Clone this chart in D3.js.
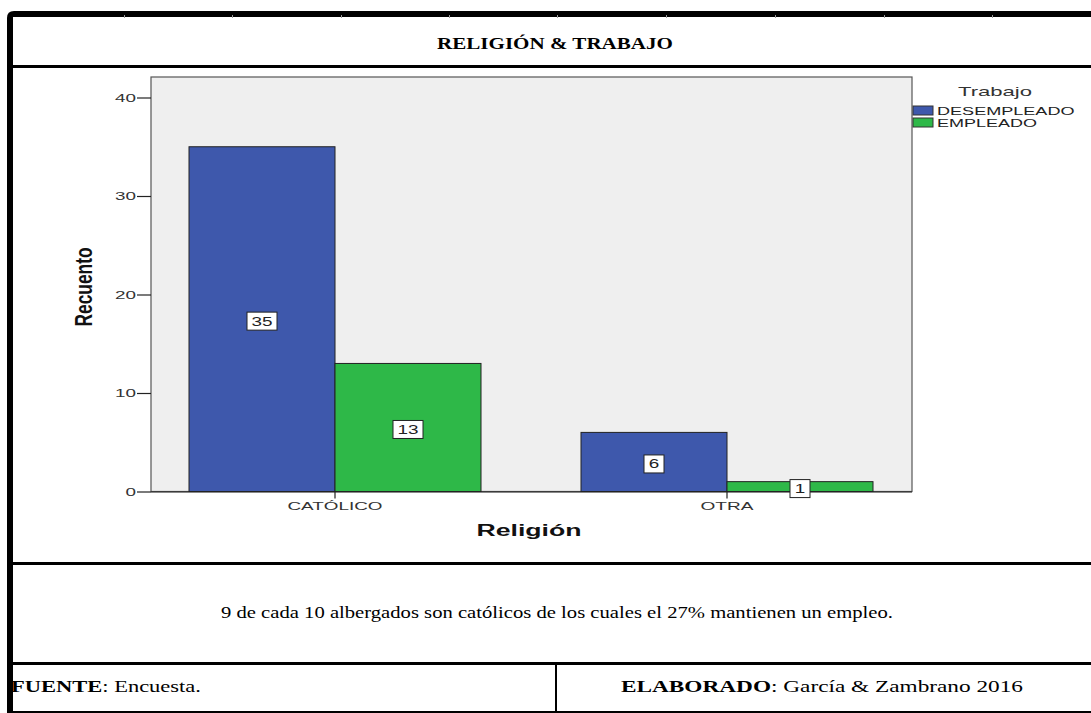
<!DOCTYPE html>
<html>
<head>
<meta charset="utf-8">
<script src="https://cdn.jsdelivr.net/npm/d3@7"></script>
<style>
  html, body { margin: 0; padding: 0; background: #fff; }
  svg { display: block; }
</style>
</head>
<body>
<svg id="chart" width="1091" height="713"></svg>
<script>
// ---- data ----
const categories = ["CATÓLICO", "OTRA"];
const series = ["DESEMPLEADO", "EMPLEADO"];
const desempleado = [35, 6];
const empleado = [13, 1];
const yTicks = [0, 10, 20, 30, 40];
const seriesColors = ["#3E58AC", "#2EB848"];
const titleText = "RELIGIÓN & TRABAJO";
const yTitle = "Recuento";
const xTitle = "Religión";
const legendTitle = "Trabajo";
const commentText = "9 de cada 10 albergados son católicos de los cuales el 27% mantienen un empleo.";

const values = [desempleado, empleado];
const rows = [];
categories.forEach((c, i) => series.forEach((s, j) => rows.push({cat: c, ser: s, si: j, v: values[j][i]})));

const svg = d3.select("#chart");
const serif = "'Liberation Serif', 'Times New Roman', serif";
const sans = "'Liberation Sans', Arial, sans-serif";

// ---- page frame (document table) ----
const frame = svg.append("g");
frame.append("path").attr("d", "M7,713 L7,18 Q7,11 14,11 L1091,11 L1091,17 L13,17 L13,713 Z").attr("fill", "#000");
[124, 232, 341, 449, 557, 666, 775, 884, 992].forEach(x =>
  frame.append("rect").attr("x", x).attr("y", 15).attr("width", 1).attr("height", 3).attr("fill", "#999"));
frame.append("rect").attr("x", 13).attr("y", 65).attr("width", 1078).attr("height", 3).attr("fill", "#000");
frame.append("rect").attr("x", 13).attr("y", 562).attr("width", 1078).attr("height", 3).attr("fill", "#000");
frame.append("rect").attr("x", 13).attr("y", 662).attr("width", 1078).attr("height", 3).attr("fill", "#000");
frame.append("rect").attr("x", 7).attr("y", 711).attr("width", 1084).attr("height", 2).attr("fill", "#000");
frame.append("rect").attr("x", 555).attr("y", 665).attr("width", 2).attr("height", 47).attr("fill", "#000");

svg.append("text").attr("x", 437).attr("y", 49)
  .attr("font-family", serif).attr("font-weight", "bold").attr("font-size", 17.5)
  .attr("textLength", 236).attr("lengthAdjust", "spacingAndGlyphs").attr("fill", "#000")
  .text(titleText);

svg.append("text").attr("x", 221).attr("y", 618)
  .attr("font-family", serif).attr("font-size", 17)
  .attr("textLength", 672).attr("lengthAdjust", "spacingAndGlyphs").attr("fill", "#000")
  .text(commentText);

const f1 = svg.append("text").attr("x", 11).attr("y", 692)
  .attr("font-family", serif).attr("font-size", 17)
  .attr("textLength", 190).attr("lengthAdjust", "spacingAndGlyphs").attr("fill", "#000");
f1.append("tspan").attr("font-weight", "bold").text("FUENTE");
f1.append("tspan").text(": Encuesta.");

const f2 = svg.append("text").attr("x", 621).attr("y", 692)
  .attr("font-family", serif).attr("font-size", 17)
  .attr("textLength", 402).attr("lengthAdjust", "spacingAndGlyphs").attr("fill", "#000");
f2.append("tspan").attr("font-weight", "bold").text("ELABORADO");
f2.append("tspan").text(": García & Zambrano 2016");

// ---- chart ----
const plot = {left: 151, right: 912, top: 77, bottom: 491.5};
const x = d3.scaleBand().domain(categories).range([139, 923]).padding(0);
const xs = d3.scaleBand().domain(series).range([-146, 146]).padding(0);
const y = d3.scaleLinear().domain([0, 40]).range([491.5, 97.5]);

svg.append("rect").attr("x", plot.left).attr("y", plot.top)
  .attr("width", plot.right - plot.left).attr("height", plot.bottom - plot.top)
  .attr("fill", "#efefef").attr("stroke", "#555").attr("stroke-width", 1.2);

// y axis
const yAxis = svg.append("g").attr("transform", `translate(${plot.left},0)`)
  .call(d3.axisLeft(y).tickValues(yTicks).tickSize(14).tickPadding(1));
yAxis.select(".domain").remove();
yAxis.selectAll(".tick line").attr("stroke", "#222").attr("stroke-width", 1.2);
yAxis.selectAll(".tick text")
  .attr("font-family", sans).attr("font-size", 10.5).attr("fill", "#333")
  .attr("dy", "0.36em")
  .each(function(d) {
    const t = String(d);
    d3.select(this).attr("textLength", t.length * 10.5).attr("lengthAdjust", "spacingAndGlyphs");
  });

// bars
const bars = svg.append("g");
bars.selectAll("rect").data(rows).join("rect")
  .attr("x", d => x(d.cat) + x.bandwidth() / 2 + xs(d.ser))
  .attr("y", d => y(d.v))
  .attr("width", xs.bandwidth())
  .attr("height", d => y(0) - y(d.v))
  .attr("fill", d => seriesColors[d.si])
  .attr("stroke", "#222").attr("stroke-width", 1);

// x axis
const xAxis = svg.append("g").attr("transform", `translate(0,${y(0)})`)
  .call(d3.axisBottom(x).tickSize(7).tickPadding(4));
xAxis.select(".domain").attr("stroke", "#222").attr("stroke-width", 1.2)
  .attr("d", `M${plot.left},0.5H${plot.right}`);
xAxis.selectAll(".tick line").attr("stroke", "#222").attr("stroke-width", 1.2);
xAxis.selectAll(".tick text")
  .attr("font-family", sans).attr("font-size", 11.5).attr("fill", "#333")
  .attr("y", 18.5).attr("dy", 0)
  .each(function(d) {
    d3.select(this).attr("textLength", d.length > 4 ? 95 : 53).attr("lengthAdjust", "spacingAndGlyphs");
  });

// value labels
const labels = svg.append("g");
const lg = labels.selectAll("g").data(rows).join("g")
  .attr("transform", d => `translate(${x(d.cat) + x.bandwidth() / 2 + xs(d.ser) + xs.bandwidth() / 2},${(y(d.v) + y(0)) / 2 + 2})`);
lg.append("rect")
  .attr("x", d => String(d.v).length > 1 ? -15 : -10)
  .attr("y", -9)
  .attr("width", d => String(d.v).length > 1 ? 30 : 20)
  .attr("height", 18)
  .attr("fill", "#fff").attr("stroke", "#222").attr("stroke-width", 1);
lg.append("text")
  .attr("text-anchor", "middle").attr("y", 4.5)
  .attr("font-family", sans).attr("font-size", 12.5).attr("fill", "#222")
  .attr("textLength", d => String(d.v).length * 10.5).attr("lengthAdjust", "spacingAndGlyphs")
  .text(d => d.v);

// axis titles
svg.append("text").attr("x", 529).attr("y", 536).attr("text-anchor", "middle")
  .attr("font-family", sans).attr("font-weight", "bold").attr("font-size", 16).attr("fill", "#111")
  .attr("textLength", 105).attr("lengthAdjust", "spacingAndGlyphs")
  .text(xTitle);

svg.append("text")
  .attr("transform", "translate(92,287) scale(1.4,1) rotate(-90)")
  .attr("text-anchor", "middle")
  .attr("font-family", sans).attr("font-weight", "bold").attr("font-size", 17).attr("fill", "#111")
  .attr("textLength", 79).attr("lengthAdjust", "spacingAndGlyphs")
  .text(yTitle);

// legend
const legend = svg.append("g");
legend.append("text").attr("x", 958).attr("y", 96)
  .attr("font-family", sans).attr("font-size", 13).attr("fill", "#333")
  .attr("textLength", 74).attr("lengthAdjust", "spacingAndGlyphs")
  .text(legendTitle);
const li = legend.selectAll("g.item").data(series).join("g").attr("class", "item")
  .attr("transform", (d, i) => `translate(913,${106 + i * 12})`);
li.append("rect").attr("width", 20).attr("height", 9)
  .attr("fill", (d, i) => seriesColors[i]).attr("stroke", "#333").attr("stroke-width", 1);
li.append("text").attr("x", 24).attr("y", 9)
  .attr("font-family", sans).attr("font-size", 11.5).attr("fill", "#222")
  .attr("textLength", d => d.length * 12.5).attr("lengthAdjust", "spacingAndGlyphs")
  .text(d => d);
</script>
</body>
</html>
